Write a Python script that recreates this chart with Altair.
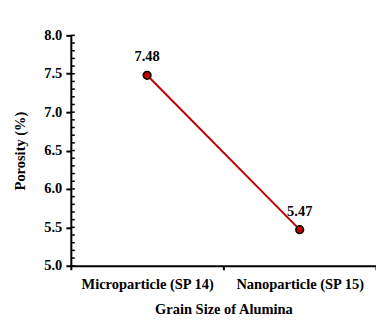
import altair as alt
import pandas as pd

categories = ["Microparticle (SP 14)", "Nanoparticle (SP 15)"]
porosity = [7.48, 5.47]
value_labels = ["7.48", "5.47"]
y_ticks = [5.0, 5.5, 6.0, 6.5, 7.0, 7.5, 8.0]
minor_ticks = [5.0, 5.1, 5.2, 5.3, 5.4, 5.5, 5.6, 5.7, 5.8, 5.9,
               6.0, 6.1, 6.2, 6.3, 6.4, 6.5, 6.6, 6.7, 6.8, 6.9,
               7.0, 7.1, 7.2, 7.3, 7.4, 7.5, 7.6, 7.7, 7.8, 7.9, 8.0]

df = pd.DataFrame({"cat": categories, "val": porosity, "lab": value_labels})
dm = pd.DataFrame({"t": minor_ticks})

FONT = "Liberation Serif"
FS = 14.5

xenc = alt.X("cat:N", sort=categories,
             scale=alt.Scale(paddingInner=0, paddingOuter=0),
             axis=alt.Axis(title="Grain Size of Alumina", labelAngle=0,
                           tickBand="extent", grid=False, labelOverlap=False,
                           domainColor="black", domainWidth=2,
                           tickColor="black", tickWidth=2, tickSize=4,
                           labelFont=FONT, labelFontWeight="bold", labelFontSize=FS,
                           labelColor="black", labelPadding=8,
                           titleFont=FONT, titleFontWeight="bold", titleFontSize=FS,
                           titleColor="black", titlePadding=11))
yscale = alt.Scale(domain=[5.0, 8.0], nice=False, zero=False)
yaxis = alt.Axis(title="Porosity (%)", values=y_ticks, format=".1f",
                 grid=False, labelOverlap=False,
                 domainColor="black", domainWidth=2,
                 tickColor="black", tickWidth=2, tickSize=5,
                 labelFont=FONT, labelFontWeight="bold", labelFontSize=FS,
                 labelColor="black", labelPadding=4,
                 titleFont=FONT, titleFontWeight="bold", titleFontSize=FS,
                 titleColor="black", titlePadding=16)
yenc = alt.Y("val:Q", scale=yscale, axis=yaxis)

base = alt.Chart(df)
line = base.mark_line(color="#C00000", strokeWidth=2).encode(x=xenc, y=yenc)
pts = base.mark_point(filled=True, fill="#C00000", stroke="black", strokeWidth=1.5,
                      size=60, opacity=1, shape="circle").encode(x=xenc, y=yenc)
txt = base.mark_text(dy=-18, font=FONT, fontWeight="bold", fontSize=FS,
                     color="black").encode(x=xenc, y=yenc, text="lab:N")
minor = alt.Chart(dm).mark_rule(color="black", strokeWidth=1.5).encode(
    y=alt.Y("t:Q", scale=yscale, axis=yaxis), x=alt.value(0), x2=alt.value(4))

chart = alt.layer(line, pts, txt, minor).properties(
    width=306, height=231,
    autosize=alt.AutoSizeParams(type="none"),
    padding={"left": 63, "top": 27, "right": 0, "bottom": 60},
    background="white",
).configure_view(stroke=None)

chart.save("out.html", embed_options={"renderer": "svg", "actions": False})
